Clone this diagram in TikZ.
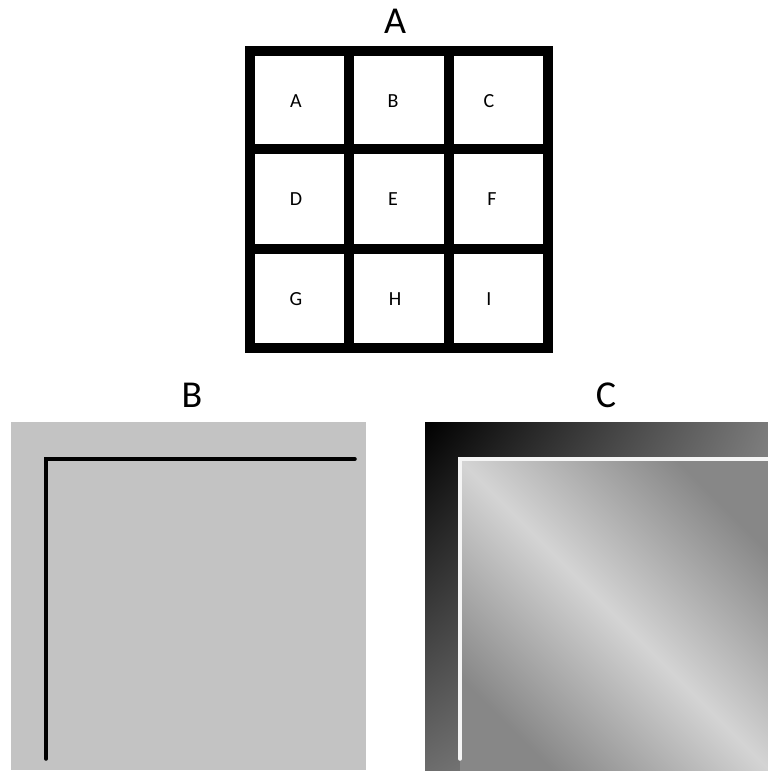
\documentclass[tikz,border=0pt]{standalone}
\usepackage{fontspec}
\setmainfont{Carlito}
\definecolor{panelGray}{HTML}{C3C3C3}
\definecolor{edgeDark}{HTML}{000000}
\definecolor{edgeRight}{HTML}{7A7A7A}
\definecolor{edgeLow}{HTML}{6C6C6C}
\definecolor{edgeCorner}{HTML}{A8A8A8}
\definecolor{bandLight}{HTML}{D4D4D4}
\definecolor{bandDark}{HTML}{878787}
\usetikzlibrary{positioning,shadings}
\tikzset{
  gridline/.style={line width=10pt, draw=black},
  cell/.style={font=\fontsize{20}{22}\selectfont, inner sep=0pt},
  paneltitle/.style={font=\fontsize{38}{40}\selectfont, inner sep=0pt},
  cornerline/.style={line width=3.5pt, line cap=round, line join=miter}
}
\newcommand{\cellnode}[4]{%
 \node[cell] (#1) at (#2,#3) {#4};}

\begin{document}
\begin{tikzpicture}[x=1pt, y=-1pt]
\useasboundingbox (0,0) rectangle (768,771);
% panel A: 3x3 grid
\node[paneltitle] (titleA) at (395,21) {A};
\draw[gridline] (250,51) rectangle (548,348);
\draw[gridline] (349,51) -- (349,348);
\draw[gridline] (449,51) -- (449,348);
\draw[gridline] (250,149) -- (548,149);
\draw[gridline] (250,249) -- (548,249);
\cellnode{cA}{296}{101}{A}
\cellnode{cB}{393}{101}{B}
\cellnode{cC}{489}{101}{C}
\cellnode{cD}{296}{199}{D}
\cellnode{cE}{393}{199}{E}
\cellnode{cF}{492}{199}{F}
\cellnode{cG}{296}{299}{G}
\cellnode{cH}{395}{299}{H}
\cellnode{cI}{489}{299}{I}
% panel B
\node[paneltitle] (titleB) at (192,395) {B};
\fill[panelGray] (11,422) rectangle (366,770);
\coordinate (bLow) at (46,759);
\coordinate (bCorner) at (46,459);
\coordinate (bEnd) at (355,459);
\draw[cornerline, black] (bLow) -- (bCorner) -- (bEnd);
% panel C
\node[paneltitle] (titleC) at (606,395) {C};
\shade[upper left=edgeDark, upper right=edgeRight, lower left=edgeLow, lower right=edgeCorner]
  (425,422) rectangle (768,770);
\shade[top color=bandDark, bottom color=bandDark, middle color=bandLight, shading angle=-45]
  (460,459) rectangle (768,770);
\coordinate (cLow) at (460,759);
\coordinate (cCorner) at (460,459);
\coordinate (cEnd) at (768,459);
\draw[cornerline, white!92!gray] (cLow) -- (cCorner) -- (cEnd);
\end{tikzpicture}
\end{document}
